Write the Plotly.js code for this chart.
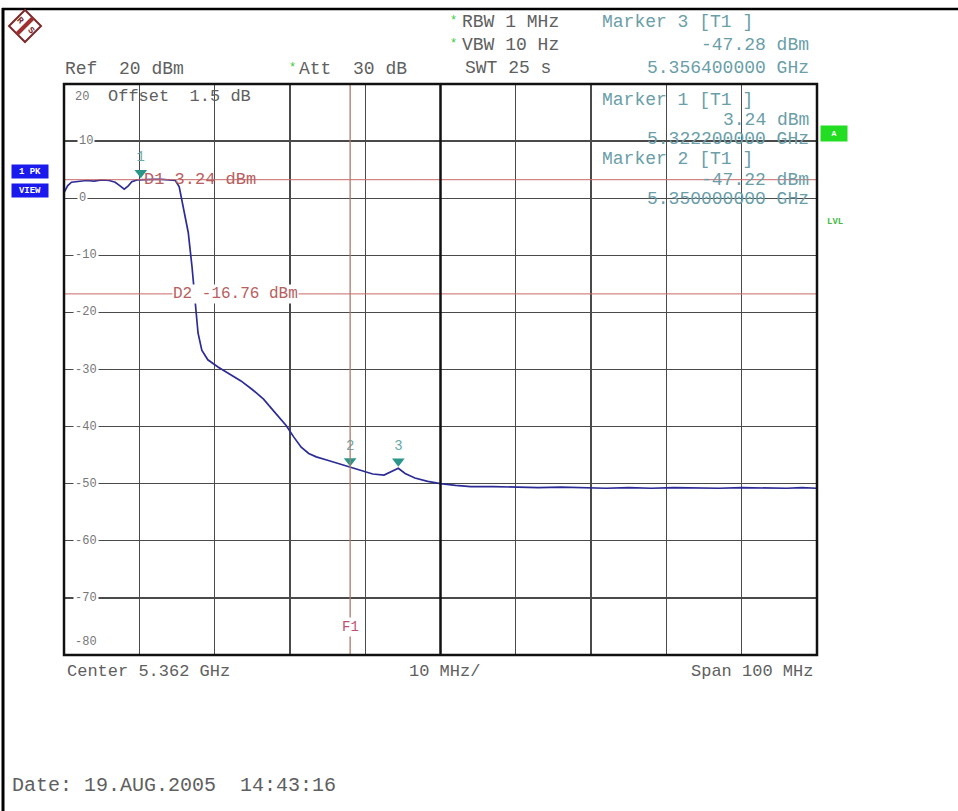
<!DOCTYPE html>
<html>
<head>
<meta charset="utf-8">
<script src="https://cdn.plot.ly/plotly-3.0.1.min.js"></script>
<style>html,body{margin:0;padding:0;background:#fff;}#chart{width:958px;height:811px;}</style>
</head>
<body>
<div id="chart"></div>
<script>
// ---- data (frequency offset from start 5.312 GHz in MHz, level in dBm) ----
const startGHz = 5.312;
const spanMHz = 100;
const offsetMHz = [0,0.5,1.0,2.0,3.0,4.0,5.0,6.0,6.8,7.4,8.0,8.5,9.0,9.7,10.2,11.0,12.0,13.0,14.0,14.8,15.3,15.8,16.5,17.0,17.4,17.8,18.3,19.1,20.5,22.0,23.5,25.0,26.5,28.0,29.5,30.5,31.5,32.5,33.5,35.0,36.5,38.0,39.5,41.0,42.5,43.3,44.4,45.3,46.6,48.3,50.0,52.0,54.0,57.0,60.0,63.0,66.0,69.0,72.0,75.0,78.0,81.0,84.0,87.0,90.0,93.0,96.0,98.0,100.0];
const levelDbm = [1.0,2.2,2.8,3.0,3.1,3.0,3.2,3.1,2.8,2.2,1.6,2.1,2.9,3.2,3.24,3.3,3.3,3.3,3.2,3.1,2.0,-1.1,-6,-12,-17.8,-23.6,-26.6,-28.3,-29.6,-30.8,-32.0,-33.5,-35.2,-37.5,-39.8,-41.8,-43.6,-44.7,-45.3,-45.9,-46.5,-47.2,-47.8,-48.3,-48.5,-48.0,-47.3,-48.2,-49.0,-49.6,-50.0,-50.3,-50.5,-50.5,-50.6,-50.7,-50.6,-50.7,-50.8,-50.7,-50.8,-50.7,-50.8,-50.8,-50.7,-50.8,-50.8,-50.7,-50.8];
const markerNames = ["1","2","3"];
const markerFreqGHz = [5.3222, 5.350, 5.3564];
const markerLevel = [3.24, -47.22, -47.28];
const displayLines = [3.24, -16.76];
const displayLineLabels = ["D1 3.24 dBm", "D2 -16.76 dBm"];
const f1GHz = 5.350;
const yTickVals = [10,0,-10,-20,-30,-40,-50,-60,-70];
const yTickText = ["10","0","-10","-20","-30","-40","-50","-60","-70"];

const freqGHz = offsetMHz.map(m => startGHz + m/1000);

// ---- pixel helpers for decorations ----
const L=64, R=817, T=84, B=655;
const px = x => (x-L)/(R-L);
const py = y => (B-y)/(B-T);
const MONO = "Liberation Mono, Courier New, monospace";
const GREY = "#606060", TEAL = "#6a9ea8", RED = "#b86060";

function txt(text, x, y, anchor, size, color, extra){
  return Object.assign({text:text, x:px(x), y:py(y), xref:"paper", yref:"paper",
    xanchor:anchor, yanchor:"middle", showarrow:false,
    font:{family:MONO, size:size, color:color}}, extra||{});
}

const ann = [];
ann.push(txt("Ref  20 dBm", 63, 69, "left", 18, GREY));
ann.push(txt("*", 292, 68, "center", 12, "#33cc33"));
ann.push(txt("Att  30 dB", 297, 69, "left", 18, GREY));
ann.push(txt("*", 453, 21, "center", 12, "#33cc33"));
ann.push(txt("RBW 1 MHz", 460, 22, "left", 18, GREY));
ann.push(txt("*", 453, 44, "center", 12, "#33cc33"));
ann.push(txt("VBW 10 Hz", 460, 45, "left", 18, GREY));
ann.push(txt("SWT 25 s", 463, 68, "left", 18, GREY));
ann.push(txt("Marker 3 [T1 ]", 600, 22, "left", 18, TEAL));
ann.push(txt("-47.28 dBm", 811, 45, "right", 18, TEAL));
ann.push(txt("5.356400000 GHz", 811, 68, "right", 18, TEAL));
ann.push(txt("Marker 1 [T1 ]", 600, 100, "left", 18, TEAL));
ann.push(txt("3.24 dBm", 811, 120, "right", 18, TEAL));
ann.push(txt("5.322200000 GHz", 811, 139, "right", 18, TEAL));
ann.push(txt("Marker 2 [T1 ]", 600, 159, "left", 18, TEAL));
ann.push(txt("-47.22 dBm", 811, 180, "right", 18, TEAL));
ann.push(txt("5.350000000 GHz", 811, 199, "right", 18, TEAL));
ann.push(txt("20", 73, 97, "left", 12, "#777"));
ann.push(txt("Offset  1.5 dB", 106, 97, "left", 17, GREY));
yTickVals.forEach((v,i)=>{
  const y = B - (v+80)/100*(B-T);
  ann.push(txt(yTickText[i], v<0?73:77, y, "left", 12, "#777", {bgcolor:"#fff", borderpad:1}));
});
ann.push(txt("-80", 73, 642, "left", 12, "#777", {bgcolor:"#fff", borderpad:1}));
displayLines.forEach((v,i)=>{
  const y = B - (v+80)/100*(B-T);
  ann.push(txt(displayLineLabels[i], i===0?142:172, y, "left", i===0?17:16, RED, i===0?{}:{bgcolor:"#fff", borderpad:0}));
});
ann.push(txt("F1", 350, 627, "center", 14, "#c05070", {bgcolor:"#fff", borderpad:1}));
ann.push(txt("Center 5.362 GHz", 65, 671, "left", 17, GREY));
ann.push(txt("10 MHz/", 407, 671, "left", 17, GREY));
ann.push(txt("Span 100 MHz", 815, 671, "right", 17, GREY));
ann.push(txt("Date: 19.AUG.2005  14:43:16", 10, 785, "left", 20, GREY));
ann.push(txt("<b>1 PK</b>", 30, 171, "center", 9, "#fff", {bgcolor:"#1a1aee", width:34, height:11, borderpad:1}));
ann.push(txt("<b>VIEW</b>", 30, 190, "center", 9, "#fff", {bgcolor:"#1a1aee", width:34, height:11, borderpad:1}));
ann.push(txt("<b>A</b>", 834, 134, "center", 8, "#fff", {bgcolor:"#22dd22", width:24, height:13, borderpad:1}));
ann.push(txt("<b>LVL</b>", 835, 222, "center", 9, "#44bb44"));
ann.push(txt("<b>R</b>", 20, 21, "center", 9, "#7a2a2a", {textangle:45}));
ann.push(txt("<b>S</b>", 31, 31, "center", 9, "#7a2a2a", {textangle:45}));

const shapes = [];
// outer frame
shapes.push({type:"line", xref:"paper", yref:"paper", x0:px(3), x1:px(3), y0:py(8), y1:py(830), line:{color:"#000", width:3}});
shapes.push({type:"line", xref:"paper", yref:"paper", x0:px(2), x1:px(970), y0:py(9), y1:py(9), line:{color:"#000", width:2.5}});
// logo
shapes.push({type:"path", xref:"paper", yref:"paper",
  path:`M ${px(25)} ${py(10)} L ${px(41)} ${py(26)} L ${px(25)} ${py(42)} L ${px(9)} ${py(26)} Z`,
  line:{color:"#7a2a2a", width:2}, fillcolor:"rgba(0,0,0,0)"});
shapes.push({type:"line", xref:"paper", yref:"paper", x0:px(17), y0:py(34), x1:px(33), y1:py(18), line:{color:"#a03030", width:4}});
// display lines and F1
displayLines.forEach(v=>shapes.push({type:"line", xref:"paper", yref:"y", x0:0, x1:1, y0:v, y1:v, line:{color:"#c86868", width:1}}));
shapes.push({type:"line", xref:"x", yref:"paper", x0:f1GHz, x1:f1GHz, y0:0, y1:1, line:{color:"#b07a6a", width:1.3}});
// center line and plot border
shapes.push({type:"line", xref:"x", yref:"paper", x0:startGHz+spanMHz/2000, x1:startGHz+spanMHz/2000, y0:0, y1:1, line:{color:"#111", width:2.5}});
shapes.push({type:"rect", xref:"paper", yref:"paper", x0:0, x1:1, y0:0, y1:1, line:{color:"#111", width:2.5}});

const traces = [
  {x:freqGHz, y:levelDbm, type:"scatter", mode:"lines", line:{color:"#2c2c96", width:1.7}, hoverinfo:"skip"},
  {x:markerFreqGHz, y:markerLevel, type:"scatter", mode:"markers+text", yaxis:"y2",
   text:markerNames, textposition:"top center", textfont:{family:MONO, size:14, color:"#6aa8a8"},
   marker:{symbol:"triangle-down", size:11, color:"#2a968a"}, hoverinfo:"skip"}
];

const layout = {
  width:958, height:811,
  margin:{l:L, r:958-R, t:T, b:811-B, pad:0},
  paper_bgcolor:"#fff", plot_bgcolor:"#fff",
  showlegend:false,
  xaxis:{range:[startGHz, startGHz+spanMHz/1000], tick0:startGHz, dtick:0.01,
    showgrid:true, gridcolor:"#4a4a4a", gridwidth:1.3, zeroline:false, showline:false,
    showticklabels:false, ticks:"", fixedrange:true},
  yaxis:{range:[-80,20], tick0:0, dtick:10, showgrid:true, gridcolor:"#4a4a4a", gridwidth:1.3,
    zeroline:false, showline:false, showticklabels:false, ticks:"", fixedrange:true},
  yaxis2:{range:[-81.2,18.8], overlaying:"y", showgrid:false, zeroline:false, showline:false,
    showticklabels:false, ticks:"", fixedrange:true},
  annotations:ann,
  shapes:shapes
};

Plotly.newPlot("chart", traces, layout, {staticPlot:true, displayModeBar:false});
</script>
</body>
</html>
